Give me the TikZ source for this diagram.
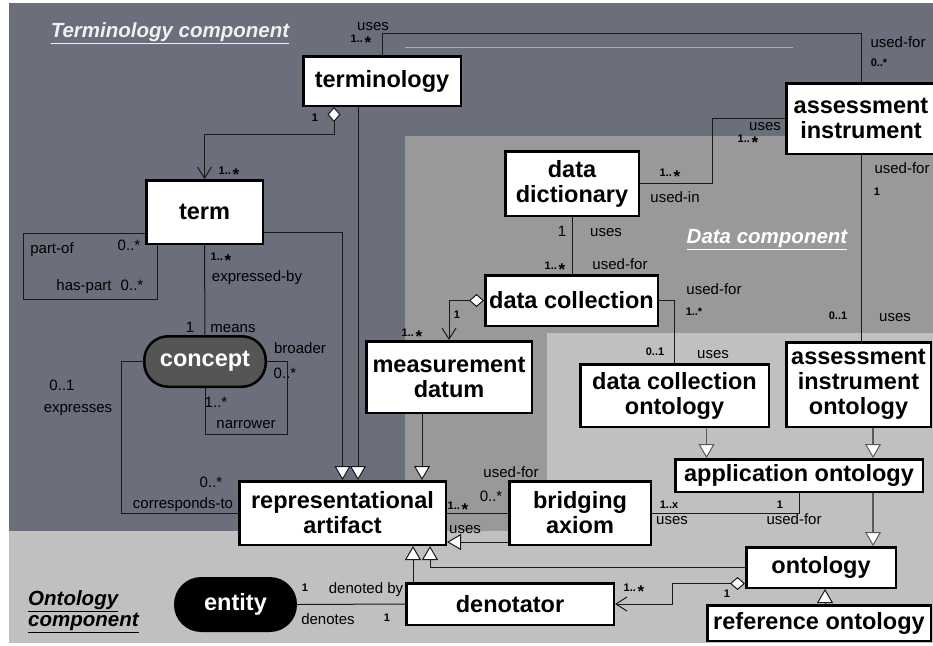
\documentclass[tikz,border=0pt]{standalone}
\usepackage{fontspec}
\setmainfont{Liberation Sans}
\usetikzlibrary{arrows.meta}
\definecolor{darkbg}{RGB}{106,111,123}
\definecolor{midbg}{RGB}{153,153,153}
\definecolor{lightbg}{RGB}{192,192,192}
\definecolor{conceptfill}{RGB}{85,85,85}
\definecolor{faintline}{RGB}{170,174,182}
\newcommand{\boxfont}{\fontsize{23.5}{25}\selectfont\bfseries}
\newcommand{\labfont}{\fontsize{15}{16}\selectfont}
\newcommand{\mulfont}{\fontsize{11}{12}\selectfont\bfseries}
\newcommand{\titlefont}{\fontsize{20.5}{21}\selectfont\bfseries\itshape}
\newcommand{\mstar}{\,\raisebox{-6pt}[0pt][0pt]{\fontsize{17}{17}\selectfont\bfseries *}}
\pgfdeclarelayer{bg}
\pgfdeclarelayer{lines}
\pgfsetlayers{bg,lines,main}
\begin{document}
\begin{tikzpicture}[x=1pt,y=-1pt,
  box/.style={draw=black, line width=2.5pt, fill=white, font=\boxfont, align=center, inner sep=0pt, text=black},
  lab/.style={font=\labfont, inner sep=0pt, text height=10.8pt, text depth=0pt, text=black},
  mul/.style={font=\mulfont, inner sep=0pt, text height=7.9pt, text depth=0pt, text=black},
  conn/.style={line width=1pt, draw=black!90},
  gen/.style={conn, -{Triangle[length=14pt,width=16pt,fill=white]}},
  gengray/.style={line width=1.6pt, draw=black!65, -{Triangle[length=14pt,width=16pt,fill=white,line width=1pt]}},
  agg/.style={conn, {Diamond[length=15pt,width=13pt,fill=white]}-{Straight Barb[length=11pt,width=14pt]}},
  sectitle/.style={font=\titlefont, inner sep=0pt}]

\useasboundingbox (0,0) rectangle (933,645);
\clip (0,0) rectangle (933,645);

\begin{pgfonlayer}{bg}
\fill[white] (0,0) rectangle (933,645);
\fill[lightbg] (9,3) rectangle (933,643);
\fill[darkbg] (9,3) rectangle (933,531);
\fill[midbg] (405,136) rectangle (933,531);
\fill[lightbg] (547,333) rectangle (933,531);
\draw[faintline, line width=0.8pt] (405,47) -- (793,47);
\end{pgfonlayer}

% boxes
\node[box, minimum width=157.5pt, minimum height=49.5pt] (terminology) at (382,81) {terminology};
\node[box, minimum width=116.5pt, minimum height=63.5pt] (term) at (204.5,212) {term};
\node[box, fill=conceptfill, text=white, rounded corners=24pt, minimum width=121.5pt, minimum height=50.5pt] (concept) at (205,361.5) {concept};
\node[box, minimum width=206.5pt, minimum height=63.5pt] (rep) at (342.5,513) {representational\\artifact};
\node[box, fill=black, text=white, rounded corners=26pt, minimum width=120.5pt, minimum height=52.5pt] (entity) at (235.5,604.5) {entity};
\node[box, minimum width=207.5pt, minimum height=41.5pt] (denot) at (510,604) {denotator};
\node[box, minimum width=141.5pt, minimum height=63.5pt] (bridging) at (580,513) {bridging\\axiom};
\node[box, minimum width=165.5pt, minimum height=71.5pt] (meas) at (449,377) {measurement\\datum};
\node[box, minimum width=172.5pt, minimum height=50.5pt] (dc) at (571.5,300.5) {data collection};
\node[box, minimum width=133.5pt, minimum height=64.5pt] (dd) at (572,183.5) {data\\dictionary};
\node[box, minimum width=149.5pt, minimum height=70.5pt] (assess) at (861,118.5) {assessment\\instrument};
\node[box, minimum width=188.5pt, minimum height=62.5pt] (dco) at (674.5,395.5) {data collection\\ontology};
\node[box, minimum width=144.5pt, minimum height=84.5pt] (aio) at (858.5,384.5) {assessment\\instrument\\ontology};
\node[box, minimum width=247.5pt, minimum height=32.5pt] (ao) at (799,475.5) {application ontology};
\node[box, minimum width=149.5pt, minimum height=40.5pt] (onto) at (821,567.5) {ontology};
\node[box, minimum width=223.5pt, minimum height=35.5pt] (refonto) at (819,623) {reference ontology};

% connectors
\begin{pgfonlayer}{lines}
\draw[conn] (terminology.north) -- ++(0,-22) -| (assess.north);
\draw[agg] ([xshift=-48pt]terminology.south) -- ++(0,27) -| (term.north);
\coordinate (tA) at ([xshift=-24pt]terminology.south);
\draw[gen] (tA) -- (tA |- rep.north);
\draw[gen] ([yshift=-20pt]term.east) -| (rep.north);
\draw[conn] ([yshift=-21pt]term.west) -- ++(-122,0) -- ++(0,66) -| ([xshift=-47.5pt]term.south);
\draw[conn] (term.south) -- (concept.north);
\draw[conn] (concept.east) -- ++(20,0) -- ++(0,73) -| (concept.south);
\draw[conn] (concept.west) -- ++(-22,0) |- (rep.west);
\coordinate (mA) at ([xshift=-27pt]meas.south);
\draw[gen] (mA) -- (mA |- rep.north);
\draw[agg] (dc.west) -| (meas.north);
\draw[conn] (dd.south) -- (dd.south |- dc.north);
\draw[conn] (dd.east) -- ++(72,0) |- (assess.west);
\draw[conn] (assess.south) -- (assess.south |- aio.north);
\draw[conn] (dc.east) -- ++(16,0) -| (dco.north);
\coordinate (dA) at ([xshift=32pt]dco.south);
\draw[gengray] (dA) -- (dA |- ao.north);
\coordinate (aA) at ([xshift=14.5pt]aio.south);
\draw[gengray] (aA) -- (aA |- ao.north);
\coordinate (oA) at ([xshift=74pt]ao.south);
\draw[gengray] (oA) -- (oA |- onto.north);
\draw[conn] (ao.south) |- (bridging.east);
\draw[conn] (bridging.west) -- (rep.east);
\coordinate (bA) at ([yshift=-29pt]bridging.west);
\draw[gen] (bA) -- (bA -| rep.east);
\coordinate (nA) at ([xshift=-97pt]denot.north);
\draw[gen] (nA) -- (nA |- rep.south);
\draw[gen] (onto.west) -| ([xshift=87.5pt]rep.south);
\draw[agg] ([yshift=-16pt]onto.west) -- ++(-73,0) |- (denot.east);
\coordinate (rA) at ([xshift=6pt]refonto.north);
\draw[gen] (rA) -- (rA |- onto.south);
\draw[conn] (entity.east) -- (denot.west);
\end{pgfonlayer}

% labels
\node[lab] (l1) at (373,25) {uses};
\node[mul] (l2) at (361,39) {1..\mstar};
\node[lab] (l3) at (898,42) {used-for};
\node[mul] (l4) at (879,63) {0..*};
\node[mul] (l5) at (315,118) {1};
\node[mul] (l6) at (229,171) {1..\mstar};
\node[lab] (l7) at (52,248) {part-of};
\node[lab] (l8) at (129,245) {0..*};
\node[lab] (l9) at (84,285) {has-part};
\node[lab] (l10) at (132,285) {0..*};
\node[mul] (l11) at (221,257) {1..\mstar};
\node[lab] (l12) at (257,276) {expressed-by};
\node[lab] (l13) at (190,327) {1};
\node[lab] (l14) at (233,327) {means};
\node[lab] (l15) at (300,348) {broader};
\node[lab] (l16) at (285,373) {0..*};
\node[lab] (l17) at (216,402) {1..*};
\node[lab] (l18) at (246,423) {narrower};
\node[lab] (l19) at (62,385) {0..1};
\node[lab] (l20) at (78,407) {expresses};
\node[lab] (l21) at (211,482) {0..*};
\node[lab] (l22) at (183,503) {corresponds-to};
\node[mul] (l23) at (412,333) {1..\mstar};
\node[mul] (l24) at (457,315) {1};
\node[lab] (l25) at (562,231) {1};
\node[lab] (l26) at (606,231) {uses};
\node[mul] (l27) at (555,266) {1..\mstar};
\node[lab] (l28) at (620,264) {used-for};
\node[mul] (l29) at (670,173) {1..\mstar};
\node[lab] (l30) at (675,197) {used-in};
\node[lab] (l31) at (765,125) {uses};
\node[mul] (l32) at (748,139) {1..\mstar};
\node[lab] (l33) at (902,168) {used-for};
\node[mul] (l34) at (877,192) {1};
\node[mul] (l35) at (838,316) {0..1};
\node[lab] (l36) at (895,316) {uses};
\node[lab] (l37) at (714,289) {used-for};
\node[mul] (l38) at (694,312) {1..*};
\node[mul] (l39) at (655,352) {0..1};
\node[lab] (l40) at (713,353) {uses};
\node[lab] (l41) at (511,472) {used-for};
\node[lab] (l42) at (491,496) {0..*};
\node[mul] (l43) at (458,506) {1..\mstar};
\node[lab] (l44) at (465,528) {uses};
\node[mul] (l45) at (669,505) {1..x};
\node[lab] (l46) at (672,519) {uses};
\node[mul] (l47) at (780,505) {1};
\node[lab] (l48) at (794,519) {used-for};
\node[mul] (l49) at (634,588) {1..\mstar};
\node[mul] (l50) at (727,594) {1};
\node[mul] (l51) at (305,588) {1};
\node[lab] (l52) at (366,588) {denoted by};
\node[lab] (l53) at (328,619) {denotes};
\node[mul] (l54) at (387,618) {1};

% section titles
\node[sectitle, text=white!94!black] (t1) at (170,33) {\underline{Terminology component}};
\node[sectitle, text=white] (t2) at (767,240) {\underline{Data component}};
\node[sectitle, align=left, anchor=west, text=black] (t3) at (28,612) {\underline{Ontology}\\\underline{component}};
\end{tikzpicture}
\end{document}
